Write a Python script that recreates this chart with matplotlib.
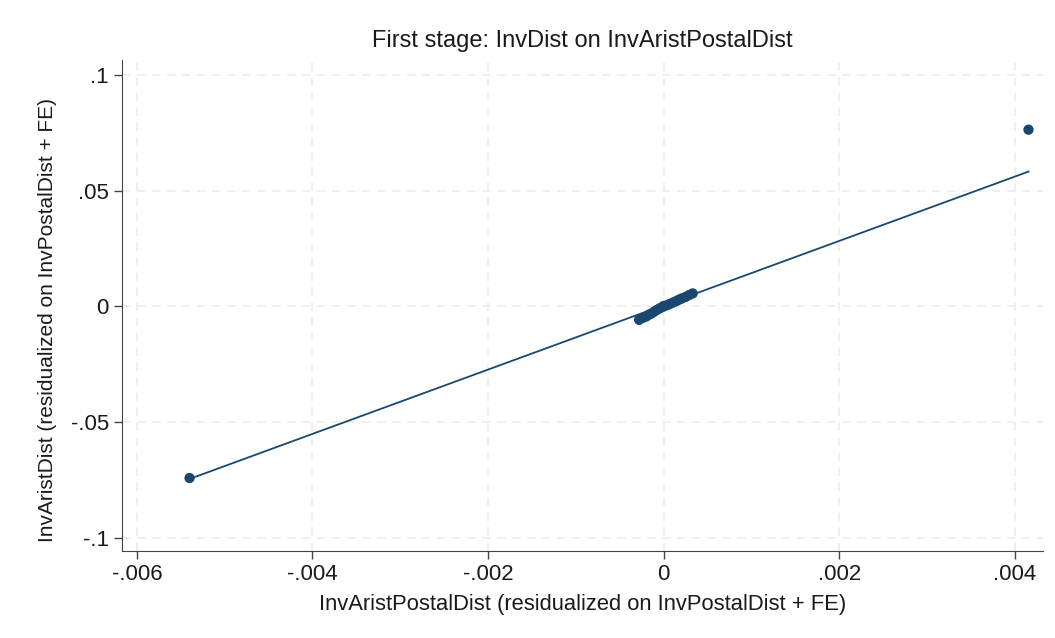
import numpy as np
import matplotlib.pyplot as plt

# residualized values
x_pts = [-0.0054, -0.00028, -0.00024, -0.0002, -0.00017, -0.00014, -0.00011,
         -0.00008, -0.00005, -0.00002, 0.0, 0.00003, 0.00006, 0.00009,
         0.00012, 0.00015, 0.00018, 0.00021, 0.00025, 0.00029, 0.00033, 0.004155]
y_pts = [-0.0741, -0.0058, -0.005, -0.0044, -0.0036, -0.0031, -0.0023,
         -0.0016, -0.0009, -0.0004, 0.0002, 0.0004, 0.0009, 0.0014,
         0.0019, 0.0024, 0.003, 0.0035, 0.0041, 0.0049, 0.0056, 0.0763]

# fitted line endpoints
fit_x = [-0.0054, 0.004155]
fit_y = [-0.0745, 0.0582]

xticks = [-0.006, -0.004, -0.002, 0, 0.002, 0.004]
xlabels = ['-.006', '-.004', '-.002', '0', '.002', '.004']
yticks = [-0.1, -0.05, 0, 0.05, 0.1]
ylabels = ['-.1', '-.05', '0', '.05', '.1']

navy = '#1a476f'

plt.rcParams['font.family'] = ['Liberation Sans', 'DejaVu Sans']

fig = plt.figure(figsize=(10.55, 6.38), dpi=100)
ax = fig.add_axes([0.1156, 0.1364, 0.873, 0.77])

ax.plot(fit_x, fit_y, color=navy, lw=1.3, zorder=2)
ax.scatter(x_pts, y_pts, s=55, color=navy, zorder=3, edgecolors='none')

ax.set_xlim(-0.00617, 0.00432)
ax.set_ylim(-0.1056, 0.1065)
ax.set_xticks(xticks)
ax.set_xticklabels(xlabels)
ax.set_yticks(yticks)
ax.set_yticklabels(ylabels)
ax.tick_params(labelsize=16, length=6, width=1, color='#444444', labelcolor='#1a1a1a')

ax.grid(True, color='#ececec', ls=(0, (5, 4)), lw=1.2)
ax.set_axisbelow(True)
for s in ['top', 'right']:
    ax.spines[s].set_visible(False)
for s in ['left', 'bottom']:
    ax.spines[s].set_color('#444444')

ax.set_title('First stage: InvDist on InvAristPostalDist', fontsize=17, color='#1a1a1a', pad=9)
ax.set_xlabel('InvAristPostalDist (residualized on InvPostalDist + FE)', fontsize=15.8, color='#1a1a1a', labelpad=6)
ax.set_ylabel('InvAristDist (residualized on InvPostalDist + FE)', fontsize=15, color='#1a1a1a')
ax.yaxis.set_label_coords(-0.071, 0.47)

fig.savefig('out.png', dpi=100)
